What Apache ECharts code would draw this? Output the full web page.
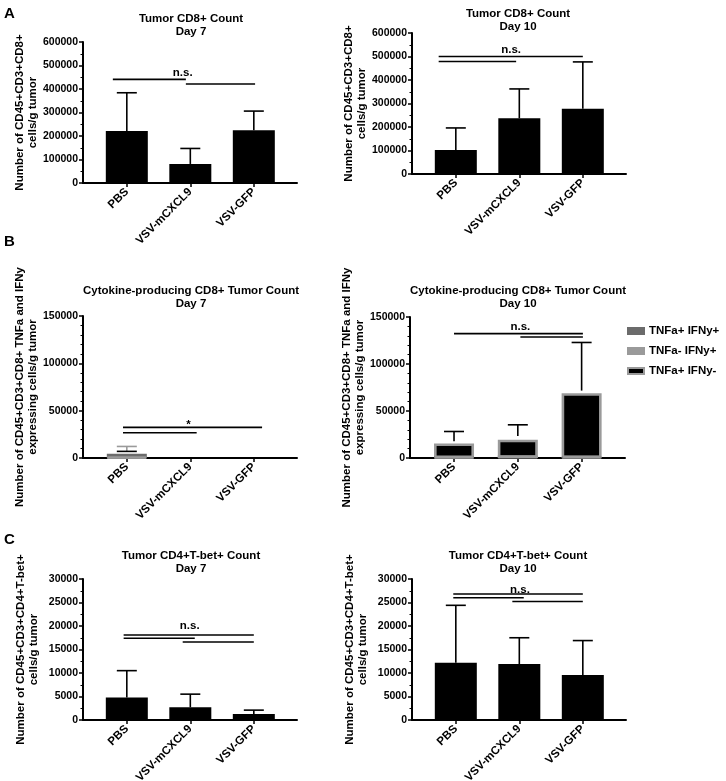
<!DOCTYPE html>
<html>
<head>
<meta charset="utf-8">
<script src="https://cdn.jsdelivr.net/npm/echarts@6/dist/echarts.min.js"></script>
<style>
html,body{margin:0;padding:0;background:#fff;}
#chart{width:726px;height:781px;}
</style>
</head>
<body>
<div id="chart"></div>
<script>
// ---------------- DATA ----------------
const categories = ['PBS', 'VSV-mCXCL9', 'VSV-GFP'];

// Panel A: Tumor CD8+ count
const cd8Day7Mean  = [221000, 81000, 225000];
const cd8Day7SD    = [163000, 66000, 81000];
const cd8Day10Mean = [102000, 237000, 278000];
const cd8Day10SD   = [94000, 125000, 199000];

// Panel B: cytokine-producing CD8+ (stacked)
const seriesNames = ['TNFa+ IFNy+', 'TNFa- IFNy+', 'TNFa+ IFNy-'];
const cytoDay7TnfPosIfnNeg  = [1000, 0, 0];
const cytoDay7TnfPosIfnPos  = [4500, 0, 0];
const cytoDay7TnfNegIfnPos  = [1000, 0, 0];
const cytoDay7SDBlack       = [500, 0, 0];
const cytoDay7SDGray        = [5700, 0, 0];
const cytoDay10TnfPosIfnNeg = [15500, 19500, 69000];
const cytoDay10TnfPosIfnPos = [500, 1000, 500];
const cytoDay10TnfNegIfnPos = [1700, 3000, 2200];
const cytoDay10SD           = [10500, 11800, 51200];

// Panel C: Tumor CD4+T-bet+ count
const tbetDay7Mean  = [4800, 2700, 1300];
const tbetDay7SD    = [5700, 2800, 800];
const tbetDay10Mean = [12200, 11900, 9600];
const tbetDay10SD   = [12200, 5600, 7300];

// Axis ranges / tick steps
const yMaxA = 600000, yStepA = 100000;
const yMaxB = 150000, yStepB = 50000;
const yMaxC = 30000,  yStepC = 5000;

// Significance brackets: [fromX, toX, y]  (x in category units)
const sigA7  = [[-0.22, 0.93, 441000], [0.93, 2.02, 421000]];
const sigA10 = [[-0.27, 2.0, 500000], [-0.27, 0.95, 479000]];
const sigB7  = [[-0.06, 2.13, 32300], [-0.06, 1.10, 26700]];
const sigB10 = [[0.0, 2.02, 132300], [1.04, 2.02, 128700]];
const sigC7  = [[-0.05, 2.0, 18100], [-0.05, 1.07, 17400], [0.88, 2.0, 16600]];
const sigC10 = [[-0.04, 2.0, 26800], [-0.04, 1.07, 26000], [0.89, 2.0, 25200]];
// Significance labels: [x, y, text]
const sigTextA7  = [[0.88, 470000, 'n.s.']];
const sigTextA10 = [[0.87, 529000, 'n.s.']];
const sigTextB7  = [[0.97, 35500, '*']];
const sigTextB10 = [[1.04, 139300, 'n.s.']];
const sigTextC7  = [[0.99, 20100, 'n.s.']];
const sigTextC10 = [[1.01, 27700, 'n.s.']];

// ---------------- CHART ----------------
const FONT = '"Liberation Sans", Arial, Helvetica, sans-serif';
const BLACK = '#000000', DARKGRAY = '#6b6b6b', LIGHTGRAY = '#9a9a9a';

const grids = [
  {left: 83,  top: 42,  width: 214, height: 141},
  {left: 412, top: 33,  width: 214, height: 141},
  {left: 83,  top: 316, width: 214, height: 142},
  {left: 410, top: 317, width: 215, height: 141},
  {left: 83,  top: 579, width: 214, height: 141},
  {left: 412, top: 579, width: 214, height: 141}
].map(g => Object.assign({containLabel: false, outerBoundsMode: 'none'}, g));

const nameA = 'Number of CD45+CD3+CD8+\ncells/g tumor';
const nameB = 'Number of CD45+CD3+CD8+ TNFa and IFNy\nexpressing cells/g tumor';
const nameC = 'Number of CD45+CD3+CD4+T-bet+\ncells/g tumor';

const yDefs = [
  [yMaxA, yStepA, 2, nameA], [yMaxA, yStepA, 2, nameA],
  [yMaxB, yStepB, 5, nameB], [yMaxB, yStepB, 5, nameB],
  [yMaxC, yStepC, 2, nameC], [yMaxC, yStepC, 2, nameC]
];

const xAxes = grids.map((g, i) => ({
  gridIndex: i, type: 'value', min: -0.69, max: 2.68,
  axisLine: {show: true, onZero: false, lineStyle: {color: BLACK, width: 2}},
  axisTick: {show: true, customValues: [0, 1, 2], length: 4, lineStyle: {color: BLACK, width: 1.5}},
  axisLabel: {show: true, customValues: [0, 1, 2], formatter: v => categories[Math.round(v)] || '',
    rotate: 45, margin: 7, color: BLACK, fontFamily: FONT, fontWeight: 'bold', fontSize: 11.5},
  splitLine: {show: false}
}));

const yAxes = yDefs.map((d, i) => ({
  gridIndex: i, type: 'value', min: 0, max: d[0], interval: d[1],
  axisLine: {show: true, onZero: false, lineStyle: {color: BLACK, width: 2}},
  axisTick: {show: true, length: 4, lineStyle: {color: BLACK, width: 1.5}},
  minorTick: {show: true, splitNumber: d[2], length: 2.5, lineStyle: {color: BLACK, width: 1}},
  splitLine: {show: false}, minorSplitLine: {show: false},
  axisLabel: {color: BLACK, fontFamily: FONT, fontWeight: 'bold', fontSize: 10.5, margin: 5,
    formatter: v => String(v)},
  name: d[3], nameLocation: 'middle', nameGap: 43,
  nameTextStyle: {color: BLACK, fontFamily: FONT, fontWeight: 'bold', fontSize: 11.5, lineHeight: 13}
}));

const series = [];

function barData(vals) {
  return vals.map((v, k) => [k, v === 0 ? '-' : v]);
}
function simpleBar(gi, vals) {
  series.push({type: 'bar', xAxisIndex: gi, yAxisIndex: gi, data: barData(vals),
    barWidth: 42, itemStyle: {color: BLACK}, silent: true, z: 2});
}
function stackBar(gi, name, vals, color, border) {
  series.push({type: 'bar', name: name, xAxisIndex: gi, yAxisIndex: gi, stack: 'stk' + gi,
    data: barData(vals), barWidth: 40,
    itemStyle: {color: color, borderColor: border, borderWidth: 2.6}, silent: true, z: 2});
}
function errorBars(gi, bases, sds, color) {
  const data = [];
  bases.forEach((b, k) => { if (sds[k] > 0) data.push([k, b, b + sds[k]]); });
  series.push({type: 'custom', xAxisIndex: gi, yAxisIndex: gi, data: data, silent: true, z: 3,
    encode: {x: 0, y: [1, 2]},
    renderItem: function (params, api) {
      const p0 = api.coord([api.value(0), api.value(1)]);
      const p1 = api.coord([api.value(0), api.value(2)]);
      const st = {stroke: color, lineWidth: 1.6};
      return {type: 'group', children: [
        {type: 'line', shape: {x1: p0[0], y1: p0[1], x2: p1[0], y2: p1[1]}, style: st},
        {type: 'line', shape: {x1: p1[0] - 10, y1: p1[1], x2: p1[0] + 10, y2: p1[1]}, style: st}
      ]};
    }});
}
function sigLines(gi, lines, texts) {
  series.push({type: 'custom', xAxisIndex: gi, yAxisIndex: gi, data: lines, silent: true, z: 4,
    encode: {x: [0, 1], y: 2},
    renderItem: function (params, api) {
      const a = api.coord([api.value(0), api.value(2)]);
      const b = api.coord([api.value(1), api.value(2)]);
      return {type: 'line', shape: {x1: a[0], y1: a[1], x2: b[0], y2: b[1]},
        style: {stroke: BLACK, lineWidth: 1.6}};
    }});
  series.push({type: 'custom', xAxisIndex: gi, yAxisIndex: gi,
    data: texts.map(t => [t[0], t[1]]), silent: true, z: 4,
    renderItem: function (params, api) {
      const p = api.coord([api.value(0), api.value(1)]);
      return {type: 'text', x: p[0], y: p[1],
        style: {text: texts[params.dataIndex][2], align: 'center', verticalAlign: 'middle',
          fill: BLACK, font: 'bold 11.5px ' + FONT}};
    }});
}

function sumArr(...arrs) { return arrs[0].map((_, k) => arrs.reduce((s, a) => s + a[k], 0)); }

// A
simpleBar(0, cd8Day7Mean);  errorBars(0, cd8Day7Mean, cd8Day7SD, BLACK);  sigLines(0, sigA7, sigTextA7);
simpleBar(1, cd8Day10Mean); errorBars(1, cd8Day10Mean, cd8Day10SD, BLACK); sigLines(1, sigA10, sigTextA10);
// B
stackBar(2, seriesNames[2], cytoDay7TnfPosIfnNeg, BLACK, LIGHTGRAY);
stackBar(2, seriesNames[0], cytoDay7TnfPosIfnPos, DARKGRAY, DARKGRAY);
stackBar(2, seriesNames[1], cytoDay7TnfNegIfnPos, LIGHTGRAY, LIGHTGRAY);
const tot7 = sumArr(cytoDay7TnfPosIfnNeg, cytoDay7TnfPosIfnPos, cytoDay7TnfNegIfnPos);
errorBars(2, tot7, cytoDay7SDGray, LIGHTGRAY);
errorBars(2, tot7, cytoDay7SDBlack, BLACK);
sigLines(2, sigB7, sigTextB7);
stackBar(3, seriesNames[2], cytoDay10TnfPosIfnNeg, BLACK, LIGHTGRAY);
stackBar(3, seriesNames[0], cytoDay10TnfPosIfnPos, DARKGRAY, DARKGRAY);
stackBar(3, seriesNames[1], cytoDay10TnfNegIfnPos, LIGHTGRAY, LIGHTGRAY);
const tot10 = sumArr(cytoDay10TnfPosIfnNeg, cytoDay10TnfPosIfnPos, cytoDay10TnfNegIfnPos);
errorBars(3, tot10, cytoDay10SD, BLACK);
sigLines(3, sigB10, sigTextB10);
// C
simpleBar(4, tbetDay7Mean);  errorBars(4, tbetDay7Mean, tbetDay7SD, BLACK);  sigLines(4, sigC7, sigTextC7);
simpleBar(5, tbetDay10Mean); errorBars(5, tbetDay10Mean, tbetDay10SD, BLACK); sigLines(5, sigC10, sigTextC10);

function titleText(x, y, txt) {
  return {type: 'text', x: x, y: y, silent: true,
    style: {text: txt, align: 'center', verticalAlign: 'top', fill: BLACK,
      font: 'bold 11.5px ' + FONT, lineHeight: 13.5}};
}
function letter(x, y, txt) {
  return {type: 'text', x: x, y: y, silent: true,
    style: {text: txt, align: 'left', verticalAlign: 'top', fill: BLACK, font: 'bold 15px ' + FONT}};
}

const option = {
  animation: false,
  backgroundColor: '#ffffff',
  grid: grids,
  xAxis: xAxes,
  yAxis: yAxes,
  legend: {
    show: true, orient: 'vertical', left: 622, top: 319,
    data: [seriesNames[0], seriesNames[1], seriesNames[2]],
    icon: 'rect', itemWidth: 16, itemHeight: 6, itemGap: 6,
    selectedMode: false,
    textStyle: {color: BLACK, fontFamily: FONT, fontWeight: 'bold', fontSize: 11.5, lineHeight: 14}
  },
  graphic: [
    letter(4, 6, 'A'), letter(4, 234, 'B'), letter(4, 532, 'C'),
    titleText(191, 12, 'Tumor CD8+ Count\nDay 7'),
    titleText(518, 7, 'Tumor CD8+ Count\nDay 10'),
    titleText(191, 284, 'Cytokine-producing CD8+ Tumor Count\nDay 7'),
    titleText(518, 284, 'Cytokine-producing CD8+ Tumor Count\nDay 10'),
    titleText(191, 549, 'Tumor CD4+T-bet+ Count\nDay 7'),
    titleText(518, 549, 'Tumor CD4+T-bet+ Count\nDay 10')
  ],
  series: series
};

const chart = echarts.init(document.getElementById('chart'), null, {renderer: 'canvas'});
chart.setOption(option);
</script>
</body>
</html>
